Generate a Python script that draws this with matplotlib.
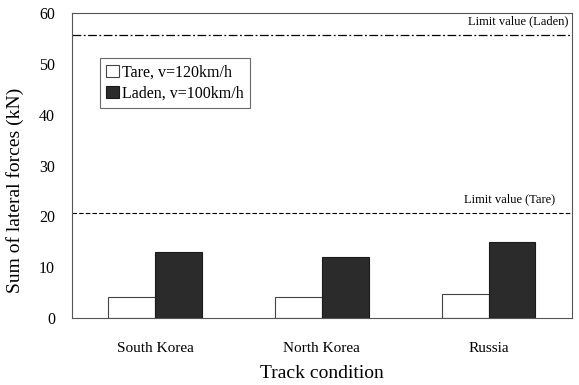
import numpy as np
import matplotlib
matplotlib.use('Agg')
import matplotlib.pyplot as plt

plt.rcParams['font.family'] = ['Liberation Serif', 'DejaVu Serif']

categories = ['South Korea', 'North Korea', 'Russia']
tare_values = [4.1, 4.2, 4.7]
laden_values = [12.9, 12.1, 14.9]
limit_laden = 55.7
limit_tare = 20.6

fig = plt.figure(figsize=(5.79, 3.85), dpi=100)
ax = fig.add_axes([0.124, 0.174, 0.864, 0.792])

x = np.arange(len(categories))
w = 0.28
ax.bar(x - w / 2, tare_values, w, color='white', edgecolor='#444444', linewidth=0.8,
       label='Tare, v=120km/h')
ax.bar(x + w / 2, laden_values, w, color='#2b2b2b', edgecolor='#1a1a1a', linewidth=0.8,
       label='Laden, v=100km/h')

ax.axhline(limit_laden, color='black', linestyle=(0, (7, 2, 1.5, 2)), linewidth=0.9)
ax.axhline(limit_tare, color='black', linestyle=(0, (4, 2)), linewidth=0.8)
ax.text(2.48, limit_laden + 1.5, 'Limit value (Laden)', ha='right', va='bottom', fontsize=9)
ax.text(2.4, limit_tare + 1.5, 'Limit value (Tare)', ha='right', va='bottom', fontsize=9)

ax.set_xlim(-0.5, 2.5)
ax.set_ylim(0, 60)
ax.set_yticks([0, 10, 20, 30, 40, 50, 60])
ax.set_xticks(x)
ax.set_xticklabels(categories, fontsize=11)
ax.tick_params(axis='y', labelsize=11.5, length=0, pad=12)
ax.tick_params(axis='x', length=0, pad=17)
ax.set_xlabel('Track condition', fontsize=14)
ax.xaxis.set_label_coords(0.5, -0.155)
ax.set_ylabel('Sum of lateral forces (kN)', fontsize=14, labelpad=4)
ax.yaxis.set_label_coords(-0.095, 0.42)
for s in ax.spines.values():
    s.set_linewidth(0.8)
    s.set_color('#555555')

leg = ax.legend(loc='upper left', bbox_to_anchor=(0.04, 0.878), fontsize=11.5,
                frameon=True, fancybox=False, handlelength=0.8, handleheight=0.8,
                handletextpad=0.2, borderpad=0.4, labelspacing=0.3)
leg.get_frame().set_edgecolor('#444444')
leg.get_frame().set_linewidth(0.8)

fig.savefig('out.png', dpi=100)
